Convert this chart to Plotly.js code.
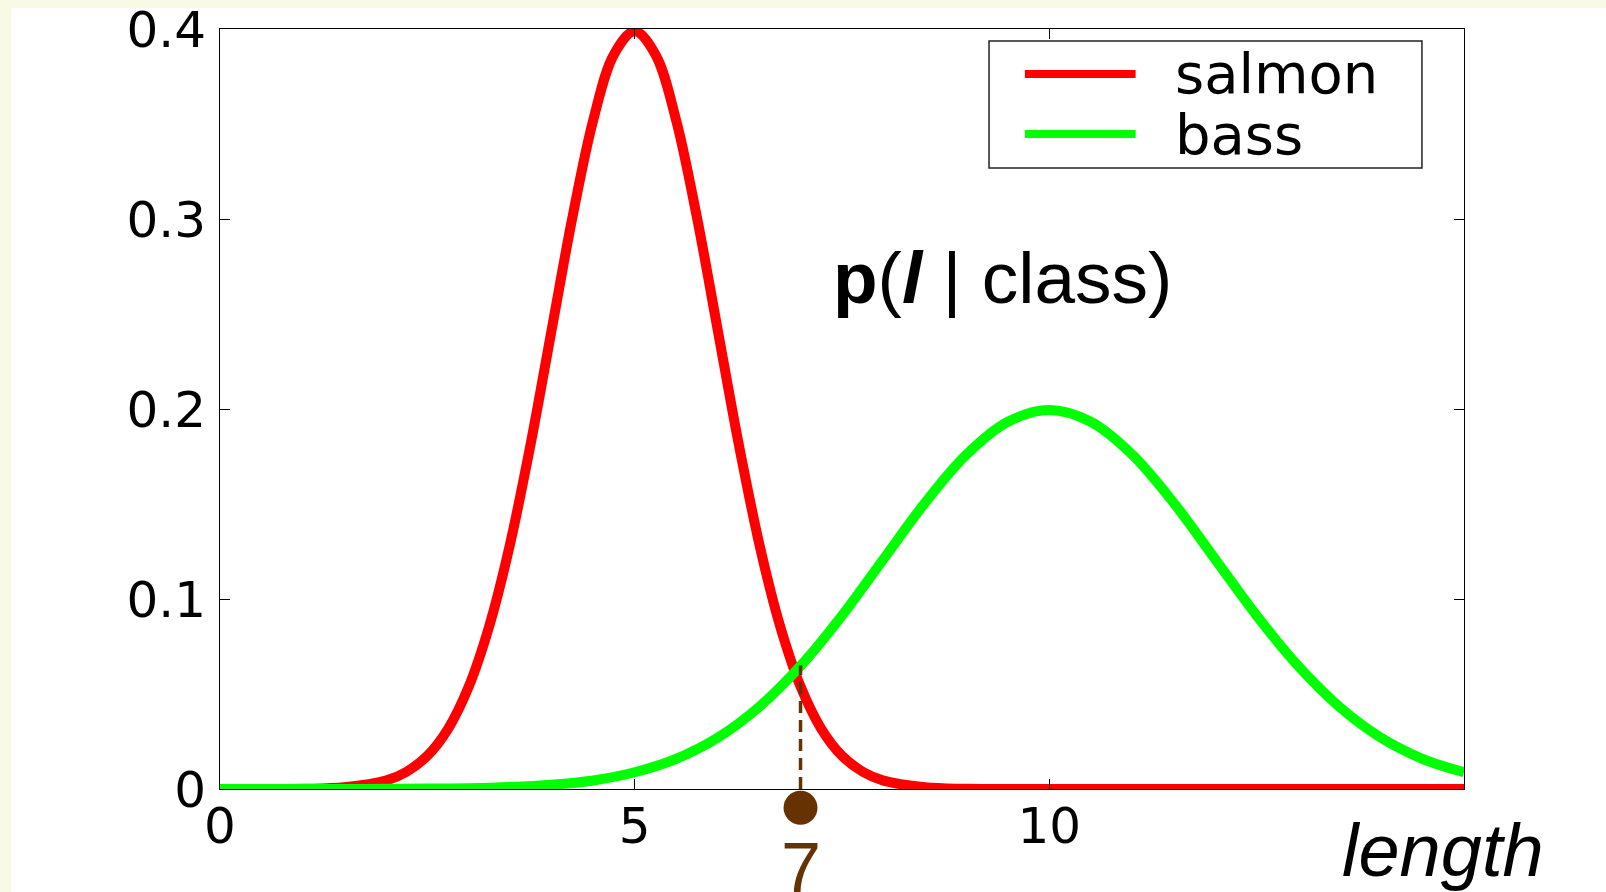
<!DOCTYPE html>
<html>
<head>
<meta charset="utf-8">
<script src="https://cdn.plot.ly/plotly-3.0.1.min.js"></script>
<style>
  html, body { margin: 0; padding: 0; background: #f8fae6; width: 1606px; height: 892px; overflow: hidden; }
  #chart { position: absolute; left: 11px; top: 8px; width: 1595px; height: 884px; background: #ffffff; }
</style>
</head>
<body>
<div id="chart"></div>
<script>
// Class-conditional densities of fish length
const salmonX = [0, 1, 1.5, 2, 2.25, 2.5, 2.75, 3, 3.25, 3.5, 3.75, 4, 4.25, 4.5, 4.75, 5,
                 5.25, 5.5, 5.75, 6, 6.25, 6.5, 6.75, 7, 7.25, 7.5, 7.75, 8, 8.5, 9, 10, 15];
const salmonY = [0, 0.0001, 0.0009, 0.0044, 0.0091, 0.0175, 0.0317, 0.0540, 0.0863, 0.1295,
                 0.1826, 0.2420, 0.3011, 0.3521, 0.3867, 0.3989, 0.3867, 0.3521, 0.3011, 0.2420,
                 0.1826, 0.1295, 0.0863, 0.0540, 0.0317, 0.0175, 0.0091, 0.0044, 0.0009, 0.0001, 0, 0];
const bassX = [0, 0.5, 1, 1.5, 2, 2.5, 3, 3.5, 4, 4.5, 5, 5.5, 6, 6.5, 7, 7.5,
               8, 8.5, 9, 9.5, 10, 10.5, 11, 11.5, 12, 12.5, 13, 13.5, 14, 14.5, 15];
const bassY = [0, 0, 0, 0, 0.0001, 0.0002, 0.0004, 0.001, 0.0022, 0.0045, 0.0088,
               0.0159, 0.027, 0.0432, 0.0648, 0.0913, 0.121, 0.1506, 0.176, 0.1933, 0.1995,
               0.1933, 0.176, 0.1506, 0.121, 0.0913, 0.0648, 0.0432, 0.027, 0.0159, 0.0088];
const seriesNames = ["salmon", "bass"];
const seriesColors = ["#ff0000", "#00ff00"];

// Observed length and the bass density at that length
const observedX = 7;
const observedBassY = 0.065;
const observedLabel = String(observedX);
const markColor = "#663300";

const xTicks = [0, 5, 10];
const yTicks = [0, 0.1, 0.2, 0.3, 0.4];
const yTickText = ["0", "0.1", "0.2", "0.3", "0.4"];

const SANS = "Liberation Sans, Arial, Helvetica, sans-serif";
const TICKS = "DejaVu Sans, sans-serif";

// Main axes sit above a strip that holds the observation dot under the x axis
const yTop = 0.4001;
const mainDomainBottom = 103 / 863;
const stripBottom = -(103 / 760) * yTop;

const traces = [
  { x: salmonX, y: salmonY, name: seriesNames[0], mode: "lines",
    line: { color: seriesColors[0], width: 10, shape: "spline" }, hoverinfo: "skip" },
  { x: bassX, y: bassY, name: seriesNames[1], mode: "lines",
    line: { color: seriesColors[1], width: 10, shape: "spline" }, hoverinfo: "skip" },
  { x: [observedX, observedX], y: [0, observedBassY], mode: "lines",
    line: { color: markColor, width: 3.5, dash: "12px,7px" }, hoverinfo: "skip" },
  { x: [observedX], y: [-0.0099], yaxis: "y2", mode: "markers",
    marker: { color: markColor, size: 34 }, hoverinfo: "skip" }
];

// Hand-drawn legend box inside the plot
const legendBox = { x0: 0.6182, x1: 0.9662, y0: 0.8389, y1: 0.9861 };
const legendRows = [0.9479, 0.8783];

const shapes = [
  { type: "rect", xref: "paper", yref: "paper",
    x0: legendBox.x0, x1: legendBox.x1, y0: legendBox.y0, y1: legendBox.y1,
    line: { color: "#222222", width: 1.5 }, fillcolor: "#ffffff", layer: "above" }
];
const annotations = [];
seriesNames.forEach((nm, i) => {
  shapes.push({ type: "line", xref: "paper", yref: "paper",
    x0: 0.647, x1: 0.736, y0: legendRows[i], y1: legendRows[i],
    line: { color: seriesColors[i], width: 8 }, layer: "above" });
  annotations.push({ xref: "paper", yref: "paper", x: 0.766, y: legendRows[i],
    xanchor: "left", yanchor: "middle", showarrow: false, text: nm,
    font: { family: TICKS, size: 56, color: "#000000" } });
});

annotations.push(
  { xref: "paper", yref: "paper", x: 0.6294, y: 0.7126, xanchor: "center", yanchor: "middle",
    showarrow: false, text: "<b>p</b>(<b><i>l</i></b> | class)",
    font: { family: SANS, size: 73, color: "#000000" } },
  { xref: "paper", yref: "paper", x: 0.983, y: 0.048, xanchor: "center", yanchor: "middle",
    showarrow: false, text: "<i>length</i>",
    font: { family: SANS, size: 74, color: "#000000" } },
  { xref: "x", yref: "paper", x: observedX, y: 0.0278, xanchor: "center", yanchor: "middle",
    showarrow: false, text: observedLabel,
    font: { family: SANS, size: 72, color: markColor } }
);

const layout = {
  width: 1595, height: 884,
  margin: { l: 209, r: 142, t: 21, b: 0, pad: 0 },
  paper_bgcolor: "#ffffff", plot_bgcolor: "rgba(0,0,0,0)",
  showlegend: false,
  xaxis: {
    range: [0, 15], tickvals: xTicks, ticktext: xTicks.map(String),
    showline: true, linecolor: "#000000", linewidth: 1, mirror: "ticks",
    ticks: "inside", ticklen: 10, tickcolor: "#000000",
    showgrid: false, zeroline: false, ticklabelstandoff: -7, ticklabeloverflow: "allow",
    tickfont: { family: TICKS, size: 50, color: "#000000" }
  },
  yaxis: {
    domain: [mainDomainBottom, 1],
    range: [0, yTop], tickvals: yTicks, ticktext: yTickText,
    showline: true, linecolor: "#000000", linewidth: 1, mirror: "ticks",
    ticks: "inside", ticklen: 10, tickcolor: "#000000",
    showgrid: false, zeroline: false, ticklabelstandoff: 3, ticklabeloverflow: "allow",
    tickfont: { family: TICKS, size: 50, color: "#000000" }
  },
  yaxis2: {
    domain: [0, 1], range: [stripBottom, yTop], anchor: "x",
    visible: false, showgrid: false, zeroline: false
  },
  shapes: shapes,
  annotations: annotations
};

Plotly.newPlot("chart", traces, layout, { displayModeBar: false, staticPlot: true });
</script>
</body>
</html>
